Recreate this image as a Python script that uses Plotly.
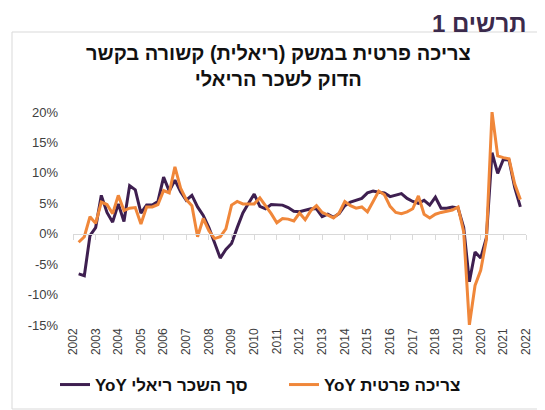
import plotly.graph_objects as go

# ---------------- data ----------------
quarters = [f"{y}Q{q}" for y in range(2003, 2023) for q in range(1, 5)][:79]

real_wage = [
    -6.6, -6.9, -0.3, 1.0, 6.3, 3.5, 1.9, 4.9, 2.0, 7.9,
    7.2, 3.4, 4.7, 4.7, 5.3, 9.3, 7.0, 8.8, 6.9, 5.5,
    6.3, 4.4, 3.0, 1.0, -1.5, -4.0, -2.6, -1.6, 1.0, 3.4,
    5.0, 6.5, 4.5, 4.1, 4.8, 4.7, 4.7, 4.3, 3.7, 3.6,
    3.8, 4.1, 4.1, 2.8, 3.2, 2.7, 3.3, 4.6, 5.2, 5.5,
    5.8, 6.7, 7.0, 6.8, 6.7, 6.1, 6.3, 6.6, 5.8, 5.3,
    5.0, 5.5, 4.7, 6.0, 4.2, 4.2, 4.4, 4.2, 1.0, -7.9,
    -3.0, -4.0, -0.7, 13.3, 9.9, 12.2, 12.1, 7.6, 4.4,
]

private_consumption = [
    -1.4, -0.5, 2.8, 1.7, 5.2, 4.8, 3.3, 6.3, 3.8, 4.2,
    4.3, 1.6, 4.4, 4.4, 4.8, 7.1, 6.7, 11.0, 7.5, 5.6,
    4.6, -0.5, 2.5, 0.5, -0.8, -0.5, 0.8, 4.7, 5.3, 4.9,
    4.9, 4.9, 5.9, 4.7, 3.3, 1.8, 2.5, 2.4, 2.1, 3.4,
    2.3, 3.8, 4.6, 3.5, 3.0, 2.6, 3.4, 5.3, 4.6, 4.2,
    4.4, 3.6, 5.3, 7.0, 6.4, 4.5, 3.5, 3.3, 3.6, 4.1,
    6.2, 3.2, 2.6, 3.2, 3.5, 3.7, 3.9, 4.4, 0.3, -15.0,
    -8.5, -6.0, -1.0, 20.0, 12.8, 12.5, 12.3, 8.2, 5.6,
]

year_labels = [str(y) for y in range(2002, 2023)]
y_ticks = [-15, -10, -5, 0, 5, 10, 15, 20]
y_tick_text = [f"{v}%" for v in y_ticks]

name_wage = "YoY סך השכר ריאלי"
name_cons = "YoY צריכה פרטית"
heading = "תרשים 1"
title = "צריכה פרטית במשק (ריאלית) קשורה בקשר<br>הדוק לשכר הריאלי"

# ---------------- positions ----------------
x_pos = list(range(len(quarters)))
first_year = int(quarters[0][:4])
# each year's tick sits on its 4th quarter
year_tick_pos = [4 * (int(lbl) - first_year) + 3 for lbl in year_labels]

OFF = 8  # page body margin
W, H = 545 - OFF, 410 - OFF
# plot box in window pixels: left 73, right 526, top 112, bottom 325
ML = 73 - OFF
MT = 112 - OFF
MR = W - (526 - OFF)
MB = H - (325 - OFF)
PW, PH = W - ML - MR, H - MT - MB
y_min, y_max = -15, 20
zero_frac = (0 - y_min) / (y_max - y_min)


def px_x(px):
    return (px - OFF - ML) / PW


def px_y(py):
    return (H - MB - (py - OFF)) / PH


PURPLE = "#3e1f50"
ORANGE = "#f0873a"
FONT = "Liberation Sans, Arial, sans-serif"

fig = go.Figure()
fig.add_trace(go.Scatter(
    x=x_pos, y=real_wage, mode="lines", name=name_wage,
    line=dict(color=PURPLE, width=3), xaxis="x", yaxis="y",
))
fig.add_trace(go.Scatter(
    x=x_pos, y=private_consumption, mode="lines", name=name_cons,
    line=dict(color=ORANGE, width=3), xaxis="x2", yaxis="y",
))

fig.update_layout(
    width=W, height=H, autosize=False,
    margin=dict(l=ML, r=MR, t=MT, b=MB, autoexpand=False),
    paper_bgcolor="white", plot_bgcolor="white",
    font=dict(family=FONT, color="#404040"),
    xaxis=dict(
        range=[year_tick_pos[0], year_tick_pos[-1]],
        anchor="free", position=zero_frac,
        showline=True, linecolor="#d9d9d9", linewidth=1,
        ticks="outside", ticklen=5, tickcolor="#d9d9d9", tickwidth=1,
        tickvals=year_tick_pos, showticklabels=False,
        showgrid=False, zeroline=False,
    ),
    xaxis2=dict(
        overlaying="x", matches="x", anchor="y", side="bottom",
        tickvals=year_tick_pos, ticktext=year_labels, tickangle=-90,
        tickfont=dict(size=12, color="#404040"),
        showline=False, ticks="", showgrid=False, zeroline=False,
    ),
    yaxis=dict(
        range=[y_min, y_max], tickvals=y_ticks, ticktext=y_tick_text,
        tickfont=dict(size=13, color="#404040"),
        showgrid=False, zeroline=False, showline=False, ticks="",
        ticklabelstandoff=14,
    ),
    showlegend=True,
    legend=dict(
        orientation="h", x=px_x(55), y=px_y(385), xanchor="left", yanchor="middle",
        font=dict(size=17, color="#111111", weight="bold"),
        entrywidth=184, entrywidthmode="pixels", itemwidth=30,
        bgcolor="rgba(0,0,0,0)",
    ),
    shapes=[dict(
        type="rect", xref="paper", yref="paper",
        x0=px_x(12), x1=px_x(540), y0=px_y(409), y1=px_y(32),
        line=dict(color="#d9d9d9", width=1), fillcolor="rgba(0,0,0,0)", layer="below",
    )],
    annotations=[
        dict(text=f"<b>{heading}</b>", xref="paper", yref="paper",
             x=px_x(528), y=px_y(8), xanchor="right", yanchor="top",
             showarrow=False, font=dict(size=24, color="#3b2a4c", family=FONT)),
        dict(text=f"<b>{title}</b>", xref="paper", yref="paper",
             x=px_x(278), y=px_y(66), xanchor="center", yanchor="middle",
             showarrow=False, font=dict(size=20, color="#111111", family=FONT)),
    ],
)

fig.write_html("out.html")
